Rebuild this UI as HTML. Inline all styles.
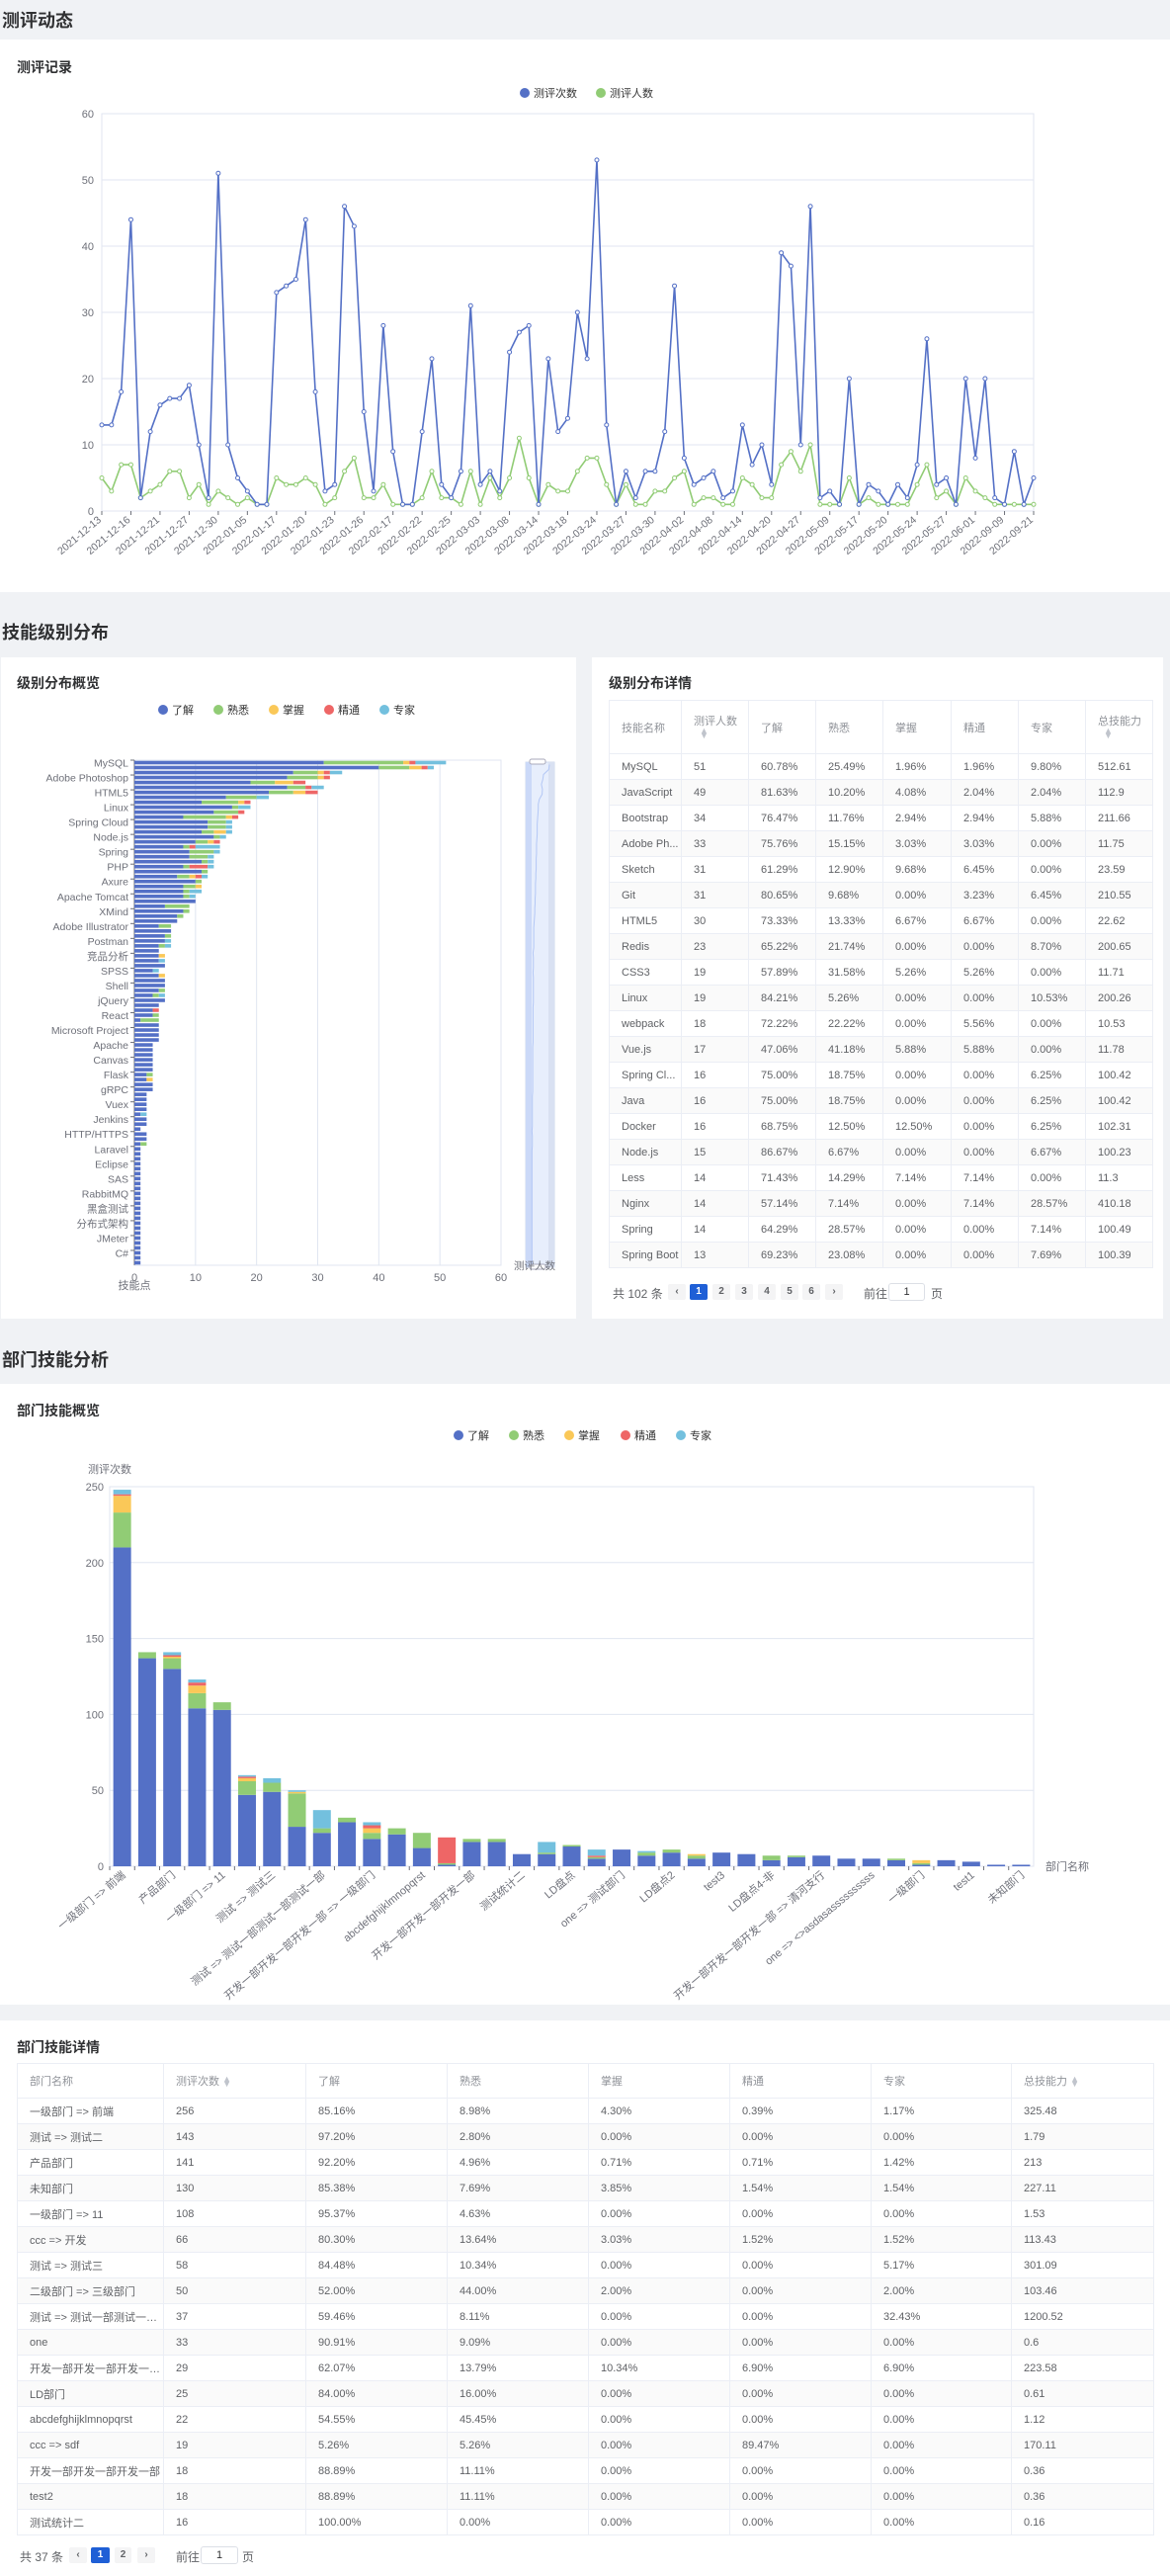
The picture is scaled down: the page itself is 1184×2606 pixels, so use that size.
<!DOCTYPE html>
<html><head><meta charset="utf-8">
<style>
*{margin:0;padding:0;box-sizing:border-box}
body{width:1184px;height:2606px;background:#f0f2f5;font-family:"Liberation Sans","Noto Sans CJK SC",sans-serif;position:relative;overflow:hidden;color:#303133}
.abs{position:absolute}
.card{position:absolute;background:#fff}
.sec{position:absolute;left:2px;font-size:18px;font-weight:bold;color:#303133}
.ttl{position:absolute;font-size:14px;font-weight:bold;color:#303133}
table{border-collapse:collapse;table-layout:fixed;position:absolute;font-size:11px;color:#606266}
td,th{border:1px solid #ebeef5;padding:0 0 0 12px;text-align:left;font-weight:normal;white-space:nowrap;overflow:hidden;text-overflow:ellipsis}
th{color:#909399}
tr.alt td{background:#fafafa}
.pg{position:absolute;font-size:12px;color:#606266}
.pb{position:absolute;height:16px;background:#f4f4f5;border-radius:2px;font-size:10px;text-align:center;line-height:16px;color:#606266;font-weight:bold}
.pb.on{background:#409eff;background:#1f5fd6;color:#fff}
.inp{position:absolute;height:18px;border:1px solid #dcdfe6;border-radius:3px;font-size:11px;text-align:center;line-height:16px}
.sort{display:inline-block;font-size:9px;color:#c0c4cc}
svg{position:absolute;left:0;top:0}
</style></head>
<body>
<div class="sec" style="top:7px">测评动态</div>
<div class="card" style="left:0;top:40px;width:1184px;height:559px"></div>
<div class="ttl" style="left:17px;top:58px">测评记录</div>

<div class="sec" style="top:626px">技能级别分布</div>
<div class="card" style="left:1px;top:665px;width:582px;height:669px"></div>
<div class="ttl" style="left:17px;top:681px">级别分布概览</div>
<div class="card" style="left:599px;top:665px;width:578px;height:669px"></div>
<div class="ttl" style="left:616px;top:681px">级别分布详情</div>

<div class="sec" style="top:1362px">部门技能分析</div>
<div class="card" style="left:0;top:1400px;width:1184px;height:628px"></div>
<div class="ttl" style="left:17px;top:1417px">部门技能概览</div>
<div class="card" style="left:0;top:2044px;width:1184px;height:562px"></div>
<div class="ttl" style="left:17px;top:2061px">部门技能详情</div>

<table id="t1" style="left:616px;top:708px;width:550px"></table>
<div class="pg" style="left:620px;top:1300px">共 102 条</div>
<div id="pg1"></div>
<div class="pg" style="left:874px;top:1300px">前往</div>
<div class="inp" style="left:899px;top:1298px;width:37px">1</div>
<div class="pg" style="left:942px;top:1300px">页</div>

<table id="t2" style="left:17px;top:2087px;width:1150px;font-size:11px"></table>
<div class="pg" style="left:20px;top:2578px">共 37 条</div>
<div id="pg2"></div>
<div class="pg" style="left:178px;top:2578px">前往</div>
<div class="inp" style="left:203px;top:2576px;width:38px">1</div>
<div class="pg" style="left:245px;top:2578px">页</div>

<svg id="svg" width="1184" height="2606"></svg>

<script>
// ===== Line chart data =====
const lineTickLabels=["2021-12-13","2021-12-16","2021-12-21","2021-12-27","2021-12-30","2022-01-05","2022-01-17","2022-01-20","2022-01-23","2022-01-26","2022-02-17","2022-02-22","2022-02-25","2022-03-03","2022-03-08","2022-03-14","2022-03-18","2022-03-24","2022-03-27","2022-03-30","2022-04-02","2022-04-08","2022-04-14","2022-04-20","2022-04-27","2022-05-09","2022-05-17","2022-05-20","2022-05-24","2022-05-27","2022-06-01","2022-09-09","2022-09-21"];
const evalCounts=[13,13,18,44,2,12,16,17,17,19,10,2,51,10,5,3,1,1,33,34,35,44,18,3,4,46,43,15,3,28,9,1,1,12,23,4,2,6,31,4,6,3,24,27,28,1,23,12,14,30,23,53,13,1,6,2,6,6,12,34,8,4,5,6,2,3,13,7,10,4,39,37,10,46,2,3,1,20,1,4,3,1,4,2,7,26,4,5,1,20,8,20,2,1,9,1,5];
const evalPeople=[5,3,7,7,2,3,4,6,6,2,4,1,3,2,1,2,1,1,5,4,4,5,4,1,2,6,8,2,2,4,1,1,1,2,6,2,2,1,6,1,5,2,5,11,5,1,4,3,3,6,8,8,4,1,4,1,1,3,3,5,6,1,2,2,1,1,5,4,2,2,7,9,6,10,1,1,1,5,1,2,1,1,1,1,4,7,2,3,1,5,3,2,1,1,1,1,1];
const lineYTicks=[0,10,20,30,40,50,60];

// ===== Skill level bar data =====
const skillLabels=["MySQL","Adobe Photoshop","HTML5","Linux","Spring Cloud","Node.js","Spring","PHP","Axure","Apache Tomcat","XMind","Adobe Illustrator","Postman","竞品分析","SPSS","Shell","jQuery","React","Microsoft Project","Apache","Canvas","Flask","gRPC","Vuex","Jenkins","HTTP/HTTPS","Laravel","Eclipse","SAS","RabbitMQ","黑盒测试","分布式架构","JMeter","C#"];
const skLiao=[31,40,26,25,19,25,22,15,11,16,13,8,12,12,11,13,10,8,9,9,11,8,11,7,10,8,8,8,10,5,8,7,7,4,6,5,5,4,4,4,4,5,3,4,5,5,4,3,5,4,3,3,1,4,4,4,4,3,3,3,3,3,3,2,2,3,3,2,2,2,2,1,2,2,1,2,2,1,1,1,1,1,1,1,1,1,1,1,1,1,1,1,1,1,1,1,1,1,1,1,1,1];
const skShu=[13,5,4,5,4,3,4,5,6,1,4,7,3,3,2,1,2,1,4,3,1,1,1,2,1,2,1,1,0,4,1,1,0,2,0,1,0,1,0,0,0,0,0,0,0,0,1,1,0,0,0,1,3,0,0,0,0,0,0,0,0,0,0,1,0,0,0,0,0,0,0,0,0,0,0,0,0,1,0,0,0,0,0,0,0,0,0,0,0,0,0,0,0,0,0,0,0,0,0,0,0,0];
const skZhang=[1,2,1,1,3,0,2,0,1,0,0,1,0,0,2,0,1,0,0,0,0,0,0,1,0,1,0,0,0,0,0,0,0,0,0,0,0,0,0,1,0,0,0,1,0,0,0,0,0,0,0,0,0,0,0,0,0,0,0,0,0,0,0,0,1,0,0,0,0,0,0,0,0,0,0,0,0,0,0,0,0,0,0,0,0,0,0,0,0,0,0,0,0,0,0,0,0,0,0,0,0,0];
const skJing=[1,1,1,1,2,1,2,0,1,0,1,1,0,0,0,0,1,1,0,0,0,3,0,1,0,0,0,0,0,0,0,0,0,0,0,0,0,0,0,0,0,0,0,0,0,0,0,0,0,0,1,0,0,0,0,0,0,0,0,0,0,0,0,0,0,0,0,0,0,0,0,0,0,0,0,0,0,0,0,0,0,0,0,0,0,0,0,0,0,0,0,0,0,0,0,0,0,0,0,0,0,0];
const skZhuan=[5,1,2,0,0,2,0,2,0,2,0,0,1,1,1,1,0,4,1,1,1,1,0,1,0,0,2,1,0,0,0,0,0,0,0,0,1,1,0,0,1,0,1,0,0,0,0,1,0,0,0,0,0,0,0,0,0,0,0,0,0,0,0,0,0,0,0,0,0,0,0,1,0,0,0,0,0,0,0,0,0,0,0,0,0,0,0,0,0,0,0,0,0,0,0,0,0,0,0,0,0,0];
const skXTicks=[0,10,20,30,40,50,60];

// ===== Department bar data =====
const deptLabels=["一级部门 => 前端","产品部门","一级部门 => 11","测试 => 测试三","测试 => 测试一部测试一部测试一部","开发一部开发一部开发一部 => 一级部门","abcdefghijklmnopqrst","开发一部开发一部开发一部","测试统计二","LD盘点","one => 测试部门","LD盘点2","test3","LD盘点4-非","开发一部开发一部开发一部 => 清河支行","one => <>asdasassssssssss","一级部门","test1","未知部门"];
const dLiao=[210,137,130,104,103,47,49,26,22,29,18,21,12,1,16,16,8,8,13,5,11,7,9,5,9,8,4,6,7,5,5,4,1,4,3,1,1];
const dShu=[23,4,7,10,5,9,6,22,3,3,4,4,10,1,2,2,0,1,1,1,0,2,2,2,0,0,3,1,0,0,0,1,1,0,0,0,0];
const dZhang=[11,0,1,5,0,2,0,1,0,0,3,0,0,0,0,0,0,0,0,0,0,0,0,1,0,0,0,0,0,0,0,0,2,0,0,0,0];
const dJing=[1,0,1,2,0,1,0,0,0,0,2,0,0,17,0,0,0,0,0,1,0,0,0,0,0,0,0,0,0,0,0,0,0,0,0,0,0];
const dZhuan=[3,0,2,2,0,1,3,1,12,0,2,0,0,0,0,0,0,7,0,4,0,1,0,0,0,0,0,0,0,0,0,0,0,0,0,0,0];
const deptYTicks=[0,50,100,150,200,250];

const COL=["#5470c6","#91cc75","#fac858","#ee6666","#73c0de"];
const NS="http://www.w3.org/2000/svg";
const svg=document.getElementById('svg');
function el(tag,attrs,parent){const e=document.createElementNS(NS,tag);for(const k in attrs)e.setAttribute(k,attrs[k]);(parent||svg).appendChild(e);return e;}
function txt(s,attrs,parent){const t=el('text',Object.assign({'font-family':'Liberation Sans, Noto Sans CJK SC, sans-serif','font-size':11,fill:'#6e7079'},attrs),parent);t.textContent=s;return t;}

function legend(names,xs,y,prefix,size){
  names.forEach((n,i)=>{
    const g=el('g',{});
    
    
    el('circle',{cx:xs[i],cy:y,r:size,fill:COL[i]},g);
    txt(n,{x:xs[i]+size+4,y:y+4,fill:'#333','font-size':11},g);
  });
}
const levels=["了解","熟悉","掌握","精通","专家"];

// ---------- Line chart ----------
(function(){
  const L=103,R=1046,T=115,B=517,n=evalCounts.length;
  const x=i=>L+i*(R-L)/(n-1), y=v=>B-(v/60)*(B-T);
  legend(["测评次数","测评人数"],[531,608],94,'line',5);
  lineYTicks.forEach(v=>{
    const g=el('line',{x1:L,x2:R,y1:y(v),y2:y(v),stroke:v?'#e0e6f1':'#6e7079'});
    
    
    const t=txt(String(v),{x:L-8,y:y(v)+4,'text-anchor':'end'});
    
    
  });
  el('rect',{x:L,y:T,width:R-L,height:B-T,fill:'none',stroke:'#e0e6f1'});
  lineTickLabels.forEach((s,k)=>{
    const xi=x(k*3);
    el('line',{x1:xi,x2:xi,y1:B,y2:B+4,stroke:'#6e7079'});
    const t=txt(s,{x:xi,y:B+10,'text-anchor':'end',transform:`rotate(-40 ${xi} ${B+10})`,'font-size':10.5});
    
    
  });
  [[evalPeople,COL[1],'people'],[evalCounts,COL[0],'count']].forEach(([d,c,nm])=>{
    const p=el('polyline',{points:d.map((v,i)=>x(i)+','+y(v)).join(' '),fill:'none',stroke:c,'stroke-width':1.6});
    
    
    d.forEach((v,i)=>{
      const ci=el('circle',{cx:x(i),cy:y(v),r:2,fill:'#fff',stroke:c,'stroke-width':1});
      
      
    });
  });
})();

// ---------- Horizontal stacked bars ----------
(function(){
  const L=136,R=507,T=769,B=1280,n=skLiao.length,bw=(B-T)/n;
  const x=v=>L+v/60*(R-L), yc=i=>T+(i+0.5)*bw;
  legend(levels,[165,221,277,333,389],718,'level',5);
  skXTicks.forEach(v=>{
    el('line',{x1:x(v),x2:x(v),y1:T,y2:B,stroke:'#e0e6f1'});
    const t=txt(String(v),{x:x(v),y:B+16,'text-anchor':'middle'});
    
    
  });
  el('rect',{x:L,y:T,width:R-L,height:B-T,fill:'none',stroke:'#e0e6f1'});
  el('line',{x1:L,x2:L,y1:T,y2:B,stroke:'#6e7079'});
  const series=[skLiao,skShu,skZhang,skJing,skZhuan];
  for(let i=0;i<n;i++){
    let acc=0;
    series.forEach((s,k)=>{
      if(!s[i])return;
      const r=el('rect',{x:x(acc),y:yc(i)-1.8,width:x(acc+s[i])-x(acc),height:3.6,fill:COL[k]});
      
      
      acc+=s[i];
    });
  }
  skillLabels.forEach((s,k)=>{
    const i=k*3;
    el('line',{x1:L-4,x2:L,y1:T+i*bw,y2:T+i*bw,stroke:'#6e7079'});
    const t=txt(s,{x:L-6,y:yc(i)+4,'text-anchor':'end','font-size':10.5});
    
    
  });
  const a=txt('技能点',{x:L,y:B+24,'text-anchor':'middle'});
  
  
  // slider
  const sl=el('rect',{x:532,y:771,width:29,height:511,fill:'#e7eefc',stroke:'#d2dbee'});
  
  
  el('rect',{x:532,y:771,width:6,height:511,fill:'#cbd9f8'});
  el('rect',{x:555,y:771,width:6,height:511,fill:'#d9e1f2'});
  const tot=skLiao.map((v,i)=>v+skShu[i]+skZhang[i]+skJing[i]+skZhuan[i]);
  el('polyline',{points:tot.map((v,i)=>(538+v/51*18)+','+(771+(i+0.5)*511/n)).join(' '),fill:'none',stroke:'#b3c7f5','stroke-width':1});
  el('rect',{x:536,y:768,width:16,height:5,rx:2,fill:'#fff',stroke:'#aab'});
  el('rect',{x:536,y:1279,width:16,height:5,rx:2,fill:'#fff',stroke:'#aab'});
  const st=txt('测评人数',{x:520,y:1284,'font-size':10.5});
  
  
})();

// ---------- Department stacked bars ----------
(function(){
  const L=111,R=1046,T=1504,B=1888,n=dLiao.length,bw=(R-L)/n;
  const y=v=>B-v/250*(B-T), xc=i=>L+(i+0.5)*bw;
  legend(levels,[464,520,576,633,689],1452,'dept',5);
  deptYTicks.forEach(v=>{
    el('line',{x1:L,x2:R,y1:y(v),y2:y(v),stroke:v?'#e0e6f1':'#6e7079'});
    const t=txt(String(v),{x:L-6,y:y(v)+4,'text-anchor':'end'});
    
    
  });
  el('rect',{x:L,y:T,width:R-L,height:B-T,fill:'none',stroke:'#e0e6f1'});
  const yt=txt('测评次数',{x:L,y:1490,'text-anchor':'middle'});
  
  
  const xt=txt('部门名称',{x:R+12,y:B+4});
  
  
  const series=[dLiao,dShu,dZhang,dJing,dZhuan];
  for(let i=0;i<n;i++){
    let acc=0;
    series.forEach((s,k)=>{
      if(!s[i])return;
      const r=el('rect',{x:xc(i)-9,y:y(acc+s[i]),width:18,height:y(acc)-y(acc+s[i]),fill:COL[k]});
      
      
      acc+=s[i];
    });
    el('line',{x1:L+i*bw,x2:L+i*bw,y1:B,y2:B+4,stroke:'#6e7079'});
  }
  const clip=el('clipPath',{id:'dclip'});el('rect',{x:0,y:1888,width:1184,height:140},clip);
  const g=el('g',{'clip-path':'url(#dclip)'});
  deptLabels.forEach((s,k)=>{
    const xi=xc(k*2);
    const t=txt(s,{x:xi+4,y:B+10,'text-anchor':'end',transform:`rotate(-40 ${xi+4} ${B+10})`},g);
    
    
  });
})();

// ---------- Tables ----------
const t1Rows=[["MySQL",51,"60.78%","25.49%","1.96%","1.96%","9.80%","512.61"],["JavaScript",49,"81.63%","10.20%","4.08%","2.04%","2.04%","112.9"],["Bootstrap",34,"76.47%","11.76%","2.94%","2.94%","5.88%","211.66"],["Adobe Ph...",33,"75.76%","15.15%","3.03%","3.03%","0.00%","11.75"],["Sketch",31,"61.29%","12.90%","9.68%","6.45%","0.00%","23.59"],["Git",31,"80.65%","9.68%","0.00%","3.23%","6.45%","210.55"],["HTML5",30,"73.33%","13.33%","6.67%","6.67%","0.00%","22.62"],["Redis",23,"65.22%","21.74%","0.00%","0.00%","8.70%","200.65"],["CSS3",19,"57.89%","31.58%","5.26%","5.26%","0.00%","11.71"],["Linux",19,"84.21%","5.26%","0.00%","0.00%","10.53%","200.26"],["webpack",18,"72.22%","22.22%","0.00%","5.56%","0.00%","10.53"],["Vue.js",17,"47.06%","41.18%","5.88%","5.88%","0.00%","11.78"],["Spring Cl...",16,"75.00%","18.75%","0.00%","0.00%","6.25%","100.42"],["Java",16,"75.00%","18.75%","0.00%","0.00%","6.25%","100.42"],["Docker",16,"68.75%","12.50%","12.50%","0.00%","6.25%","102.31"],["Node.js",15,"86.67%","6.67%","0.00%","0.00%","6.67%","100.23"],["Less",14,"71.43%","14.29%","7.14%","7.14%","0.00%","11.3"],["Nginx",14,"57.14%","7.14%","0.00%","7.14%","28.57%","410.18"],["Spring",14,"64.29%","28.57%","0.00%","0.00%","7.14%","100.49"],["Spring Boot",13,"69.23%","23.08%","0.00%","0.00%","7.69%","100.39"]];
const t2Rows=[["一级部门 => 前端",256,"85.16%","8.98%","4.30%","0.39%","1.17%","325.48"],["测试 => 测试二",143,"97.20%","2.80%","0.00%","0.00%","0.00%","1.79"],["产品部门",141,"92.20%","4.96%","0.71%","0.71%","1.42%","213"],["未知部门",130,"85.38%","7.69%","3.85%","1.54%","1.54%","227.11"],["一级部门 => 11",108,"95.37%","4.63%","0.00%","0.00%","0.00%","1.53"],["ccc => 开发",66,"80.30%","13.64%","3.03%","1.52%","1.52%","113.43"],["测试 => 测试三",58,"84.48%","10.34%","0.00%","0.00%","5.17%","301.09"],["二级部门 => 三级部门",50,"52.00%","44.00%","2.00%","0.00%","2.00%","103.46"],["测试 => 测试一部测试一部...",37,"59.46%","8.11%","0.00%","0.00%","32.43%","1200.52"],["one",33,"90.91%","9.09%","0.00%","0.00%","0.00%","0.6"],["开发一部开发一部开发一部 ...",29,"62.07%","13.79%","10.34%","6.90%","6.90%","223.58"],["LD部门",25,"84.00%","16.00%","0.00%","0.00%","0.00%","0.61"],["abcdefghijklmnopqrst",22,"54.55%","45.45%","0.00%","0.00%","0.00%","1.12"],["ccc => sdf",19,"5.26%","5.26%","0.00%","89.47%","0.00%","170.11"],["开发一部开发一部开发一部",18,"88.89%","11.11%","0.00%","0.00%","0.00%","0.36"],["test2",18,"88.89%","11.11%","0.00%","0.00%","0.00%","0.36"],["测试统计二",16,"100.00%","0.00%","0.00%","0.00%","0.00%","0.16"]];
function buildTable(id,heads,rows,colW,headH,rowH,prefix){
  const t=document.getElementById(id);
  let h='<colgroup>'+colW.map(w=>`<col style="width:${w}px">`).join('')+'</colgroup>';
  h+=`<tr style="height:${headH}px">`+heads.map(x=>`<th>${x}</th>`).join('')+'</tr>';
  rows.forEach((r,i)=>{h+=`<tr class="${i%2?'alt':''}" style="height:${rowH}px">`+r.map(c=>`<td>${c}</td>`).join('')+'</tr>';});
  t.innerHTML=h;
}
const sortIc='<span class="sort">&#9650;<br>&#9660;</span>';
buildTable('t1',["技能名称",'测评人数<br><span class="sort" style="margin-left:6px;line-height:5px">&#9650;<br>&#9660;</span>',"了解","熟悉","掌握","精通","专家",'总技能力<br><span class="sort" style="margin-left:6px;line-height:5px">&#9650;<br>&#9660;</span>'],t1Rows,[73,68,68,68,69,68,68,68],54,26,'level-table');
buildTable('t2',["部门名称",'测评次数 <span class="sort" style="line-height:5px;vertical-align:middle">&#9650;<br>&#9660;</span>',"了解","熟悉","掌握","精通","专家",'总技能力 <span class="sort" style="line-height:5px;vertical-align:middle">&#9650;<br>&#9660;</span>'],t2Rows,[148,144,143,143,143,143,142,144],35,26,'dept-table');

function pager(id,items,top){
  const c=document.getElementById(id);
  items.forEach(([label,left,w,on])=>{
    const d=document.createElement('div');
    d.className='pb'+(on?' on':'');
    d.style.left=left+'px';d.style.top=top+'px';d.style.width=w+'px';
    d.textContent=label;
    
    
    c.appendChild(d);
  });
}
pager('pg1',[['‹',676,18],['1',698,18,1],['2',721,18],['3',744,18],['4',767,18],['5',790,18],['6',812,18],['›',835,18]],1299);
pager('pg2',[['‹',70,18],['1',92,19,1],['2',116,17],['›',139,18]],2577);
</script>
</body></html>
